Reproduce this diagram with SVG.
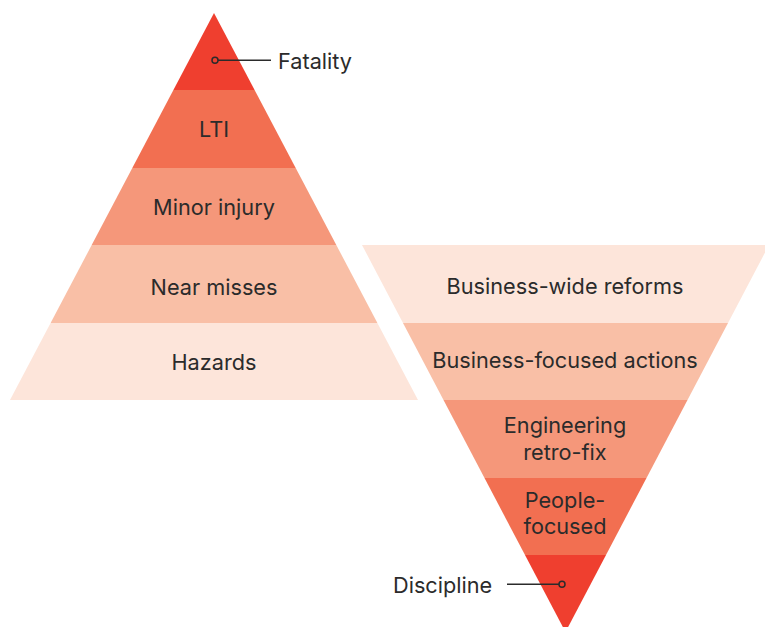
<svg xmlns="http://www.w3.org/2000/svg" width="765" height="627" viewBox="0 0 765 627">
  <style>
    .lbl { font-family: Inter, "Open Sans", "Liberation Sans", sans-serif; font-size: 21.7px; fill: #2b2b2b; text-anchor: middle; }
    .side { text-anchor: start; }
    .c1 { fill: #EF3F2F; }
    .c2 { fill: #F26F51; }
    .c3 { fill: #F5977A; }
    .c4 { fill: #F9BFA6; }
    .c5 { fill: #FDE5DA; }
    .lead { stroke: #2b2b2b; stroke-width: 1.5; fill: none; }
  </style>
  <rect width="765" height="627" fill="#ffffff"/>

  <!-- Upright pyramid: incident levels -->
  <g id="fatality">
    <polygon class="c1" points="214,13 254.6,90 173.4,90"/>
  </g>
  <g id="lti">
    <polygon class="c2" points="173.4,90 254.6,90 295.7,168 132.3,168"/>
    <text class="lbl" x="214" y="136.5">LTI</text>
  </g>
  <g id="minor-injury">
    <polygon class="c3" points="132.3,168 295.7,168 336.3,245 91.7,245"/>
    <text class="lbl" x="214" y="214.5">Minor injury</text>
  </g>
  <g id="near-misses">
    <polygon class="c4" points="91.7,245 336.3,245 377.4,323 50.6,323"/>
    <text class="lbl" x="214" y="294.5">Near misses</text>
  </g>
  <g id="hazards">
    <polygon class="c5" points="50.6,323 377.4,323 418,400 10,400"/>
    <text class="lbl" x="214" y="369.5">Hazards</text>
  </g>

  <!-- Inverted pyramid: response levels -->
  <g id="business-wide-reforms">
    <polygon class="c5" points="362,245 769,245 728,323 403,323"/>
    <text class="lbl" x="565" y="293.5">Business-wide reforms</text>
  </g>
  <g id="business-focused-actions">
    <polygon class="c4" points="403,323 728,323 687.5,400 443.5,400"/>
    <text class="lbl" x="565" y="367.5">Business-focused actions</text>
  </g>
  <g id="engineering-retro-fix">
    <polygon class="c3" points="443.5,400 687.5,400 646.5,478 484.5,478"/>
    <text class="lbl" x="565" y="432.5">Engineering</text>
    <text class="lbl" x="565" y="459.5">retro-fix</text>
  </g>
  <g id="people-focused">
    <polygon class="c2" points="484.5,478 646.5,478 606,555 525,555"/>
    <text class="lbl" x="565" y="507.5">People-</text>
    <text class="lbl" x="565" y="533.5">focused</text>
  </g>
  <g id="discipline">
    <polygon class="c1" points="525,555 606,555 565.5,632"/>
  </g>

  <!-- Callout leaders for the tip levels -->
  <g id="connectors">
    <line class="lead" x1="218" y1="60.3" x2="271" y2="60.3"/>
    <circle class="lead" cx="215" cy="60.3" r="3"/>
    <line class="lead" x1="507" y1="584.3" x2="559" y2="584.3"/>
    <circle class="lead" cx="562" cy="584.3" r="3"/>
  </g>
  <text class="lbl side" x="278" y="69">Fatality</text>
  <text class="lbl side" x="393" y="592.5">Discipline</text>
</svg>
